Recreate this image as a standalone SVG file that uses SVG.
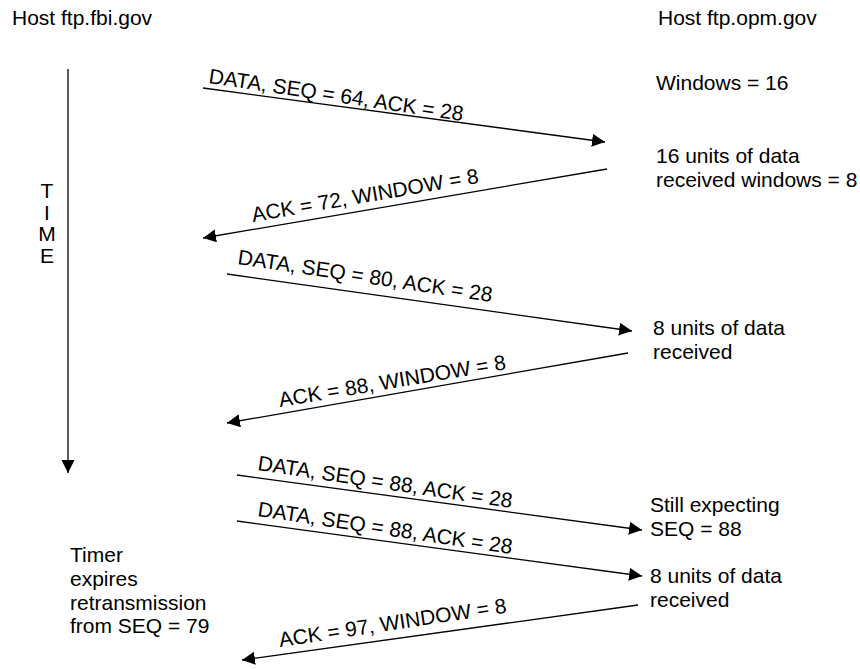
<svg xmlns="http://www.w3.org/2000/svg" width="860" height="669" viewBox="0 0 860 669">
<style>
text{font-family:"Liberation Sans",Arial,Helvetica,sans-serif;font-size:21px;fill:#000}
.ln{stroke:#000;stroke-width:1.3;fill:none}
</style>
<defs>
<marker id="ah" markerUnits="userSpaceOnUse" markerWidth="14" markerHeight="14" refX="13" refY="6.5" orient="auto">
<path d="M0,0 L13,6.5 L0,13 z" fill="#000"/>
</marker>
</defs>
<rect width="860" height="669" fill="#fff"/>
<g id="host-fbi"><text x="12" y="25">Host ftp.fbi.gov</text></g>
<g id="host-opm"><text x="658" y="25">Host ftp.opm.gov</text></g>
<g id="time-label">
<text x="47" y="198" text-anchor="middle">T</text>
<text x="47" y="220" text-anchor="middle">I</text>
<text x="47" y="241" text-anchor="middle">M</text>
<text x="47" y="263" text-anchor="middle">E</text>
</g>
<g id="note-win16"><text x="656" y="90">Windows = 16</text></g>
<g id="note-16units"><text x="656" y="163">16 units of data</text><text x="656" y="187">received windows = 8</text></g>
<g id="note-8units-1"><text x="653" y="335">8 units of data</text><text x="653" y="359">received</text></g>
<g id="note-still"><text x="650" y="512">Still expecting</text><text x="650" y="536">SEQ = 88</text></g>
<g id="note-8units-2"><text x="650" y="583">8 units of data</text><text x="650" y="607">received</text></g>
<g id="note-timer"><text x="70" y="562">Timer</text><text x="70" y="586">expires</text><text x="70" y="610">retransmission</text><text x="70" y="633">from SEQ = 79</text></g>
<g id="connectors">
<line class="ln" x1="68" y1="69" x2="68" y2="473" marker-end="url(#ah)"/>
<line class="ln" x1="203" y1="88" x2="605" y2="142" marker-end="url(#ah)"/>
<line class="ln" x1="607" y1="169" x2="203" y2="238" marker-end="url(#ah)"/>
<line class="ln" x1="227" y1="274" x2="632" y2="331" marker-end="url(#ah)"/>
<line class="ln" x1="628" y1="353" x2="227" y2="423" marker-end="url(#ah)"/>
<line class="ln" x1="237" y1="475" x2="642" y2="530" marker-end="url(#ah)"/>
<line class="ln" x1="237" y1="521" x2="642" y2="576" marker-end="url(#ah)"/>
<line class="ln" x1="638" y1="605" x2="242" y2="660" marker-end="url(#ah)"/>
</g>
<g id="labels">
<text transform="translate(208,83) rotate(8.5)">DATA, SEQ = 64, ACK = 28</text>
<text transform="translate(253,222) rotate(-9.8)">ACK = 72, WINDOW = 8</text>
<text transform="translate(237,264) rotate(8.5)">DATA, SEQ = 80, ACK = 28</text>
<text transform="translate(280,407) rotate(-9.5)">ACK = 88, WINDOW = 8</text>
<text transform="translate(257,470) rotate(8.5)">DATA, SEQ = 88, ACK = 28</text>
<text transform="translate(257,516) rotate(8.5)">DATA, SEQ = 88, ACK = 28</text>
<text transform="translate(280,647) rotate(-8.6)">ACK = 97, WINDOW = 8</text>
</g>
</svg>
